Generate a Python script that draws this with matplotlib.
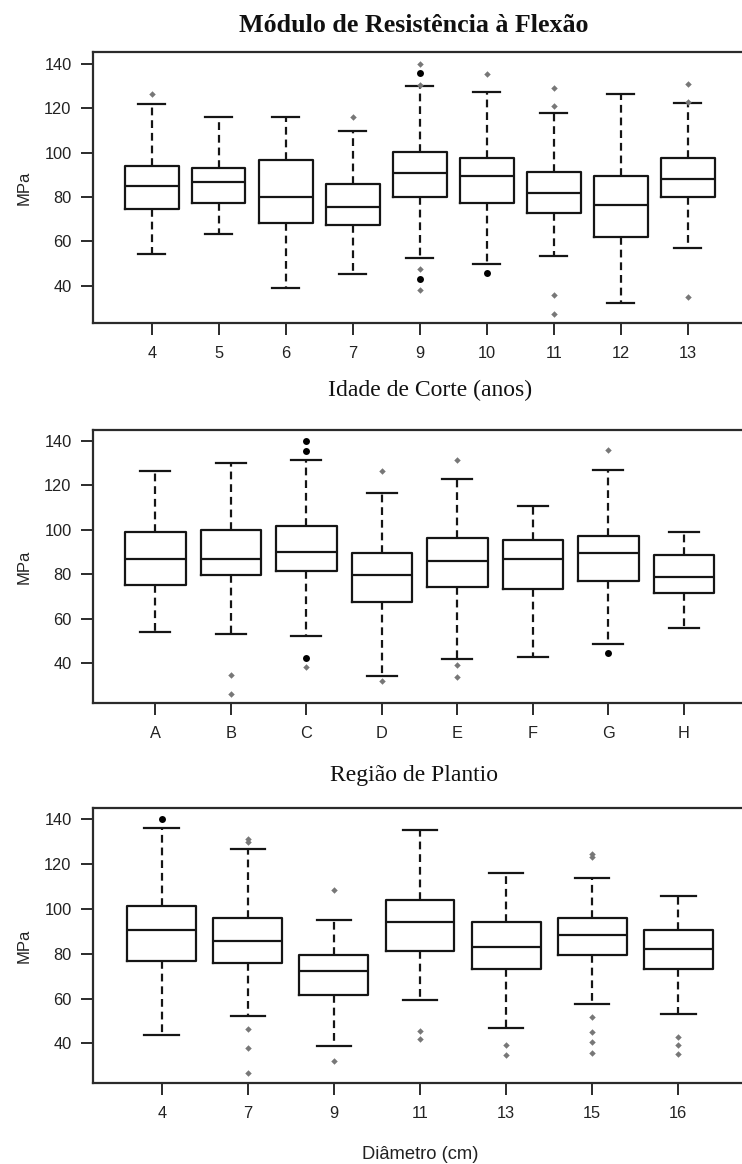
import matplotlib
matplotlib.use('Agg')
import matplotlib.pyplot as plt

# ---------------- data ----------------
# Panel 1: Idade de Corte (anos)
p1_groups = ['4', '5', '6', '7', '9', '10', '11', '12', '13']
p1_whislo = [54.1, 63.2, 39.2, 45.4, 52.6, 49.8, 53.4, 32.2, 57.0]
p1_q1 = [74.4, 77.4, 68.4, 67.4, 79.8, 77.4, 72.9, 62.1, 79.8]
p1_med = [85.1, 86.9, 79.8, 75.3, 90.7, 89.5, 82.0, 76.4, 88.0]
p1_q3 = [94.1, 93.2, 96.5, 86.0, 100.2, 97.4, 91.4, 89.6, 97.4]
p1_whishi = [122.1, 116.1, 116.1, 109.8, 130.2, 127.5, 117.7, 126.6, 122.3]
p1_out_gray = [[126.5], [], [], [115.9], [140.0, 130.5, 47.4, 38.3], [135.5],
               [129.3, 121.2, 35.8, 27.1], [], [131.1, 123.0, 35.0]]
p1_out_dark = [[], [], [], [], [136.1, 42.9], [45.9], [], [], []]

# Panel 2: Região de Plantio
p2_groups = ['A', 'B', 'C', 'D', 'E', 'F', 'G', 'H']
p2_whislo = [54.1, 53.2, 52.1, 34.0, 41.8, 42.7, 48.7, 55.7]
p2_q1 = [75.2, 79.5, 81.2, 67.4, 74.3, 73.4, 76.8, 71.7]
p2_med = [86.7, 86.7, 90.1, 79.8, 85.8, 86.7, 89.3, 78.6]
p2_q3 = [98.8, 99.7, 101.5, 89.3, 96.3, 95.2, 97.2, 88.4]
p2_whishi = [126.2, 129.8, 131.3, 116.3, 122.6, 110.4, 127.0, 98.8]
p2_out_gray = [[], [34.6, 25.9], [38.1], [126.2, 32.1], [131.5, 39.1, 33.9], [], [135.8], []]
p2_out_dark = [[], [], [139.9, 135.4, 42.2], [], [], [], [44.6], []]

# Panel 3: Diâmetro (cm)
p3_groups = ['4', '7', '9', '11', '13', '15', '16']
p3_whislo = [43.6, 52.2, 39.1, 59.3, 47.0, 57.4, 53.1]
p3_q1 = [76.7, 75.9, 61.7, 81.1, 73.2, 79.3, 73.0]
p3_med = [90.7, 85.5, 72.3, 94.2, 82.9, 88.4, 82.0]
p3_q3 = [101.2, 96.0, 79.3, 103.7, 94.0, 95.8, 90.4]
p3_whishi = [136.1, 126.5, 95.1, 135.2, 115.9, 113.5, 105.6]
p3_out_gray = [[], [131.2, 129.6, 46.3, 38.2, 26.9], [108.2, 32.1], [45.5, 42.2],
               [39.3, 34.8], [124.4, 122.9, 51.6, 45.2, 40.7, 35.8], [43.0, 39.2, 35.1]]
p3_out_dark = [[140.0], [], [], [], [], [], []]

y_ticks = [40, 60, 80, 100, 120, 140]
title = 'Módulo de Resistência à Flexão'
xlabels = ['Idade de Corte (anos)', 'Região de Plantio', 'Diâmetro (cm)']
ylabel = 'MPa'

# ---------------- figure ----------------
W, H = 742, 1164
fig = plt.figure(figsize=(W / 100, H / 100), dpi=100)
fig.patch.set_facecolor('white')

INK = '#151515'
TICKC = '#222222'


def add_axes_px(left, top, right, bottom):
    return fig.add_axes([left / W, 1 - bottom / H, (right - left) / W, (bottom - top) / H])


panels = [
    dict(groups=p1_groups, lo=p1_whislo, q1=p1_q1, med=p1_med, q3=p1_q3, hi=p1_whishi,
         gray=p1_out_gray, dark=p1_out_dark, box=(93, 52, 747, 323), ylim=(23.2, 145.4),
         first_x=151.7, spacing=67.0),
    dict(groups=p2_groups, lo=p2_whislo, q1=p2_q1, med=p2_med, q3=p2_q3, hi=p2_whishi,
         gray=p2_out_gray, dark=p2_out_dark, box=(93, 430, 747, 703), ylim=(22.0, 144.8),
         first_x=155.3, spacing=75.5),
    dict(groups=p3_groups, lo=p3_whislo, q1=p3_q1, med=p3_med, q3=p3_q3, hi=p3_whishi,
         gray=p3_out_gray, dark=p3_out_dark, box=(93, 808, 747, 1083), ylim=(22.4, 144.9),
         first_x=161.7, spacing=86.1),
]

for p in panels:
    ax = add_axes_px(*p['box'])
    n = len(p['groups'])
    pos = list(range(1, n + 1))
    stats = [dict(med=p['med'][i], q1=p['q1'][i], q3=p['q3'][i],
                  whislo=p['lo'][i], whishi=p['hi'][i], fliers=[]) for i in range(n)]
    ax.bxp(stats, positions=pos, widths=0.8, capwidths=0.4, showfliers=False,
           boxprops=dict(color=INK, linewidth=1.6),
           whiskerprops=dict(color=INK, linewidth=1.6, linestyle=(0, (3.5, 2.2))),
           capprops=dict(color=INK, linewidth=1.6),
           medianprops=dict(color=INK, linewidth=1.6))
    for i in range(n):
        g = p['gray'][i]
        if g:
            ax.plot([pos[i]] * len(g), g, ls='none', marker='D', ms=3.3,
                    color='#777777', mec='none', zorder=4)
        d = p['dark'][i]
        if d:
            ax.plot([pos[i]] * len(d), d, ls='none', marker='o', ms=5.0,
                    color='#000000', mec='none', zorder=5)
    # x-limits so that the first box sits where it does in the reference
    l, t, r, b = p['box']
    lo = 1 - (p['first_x'] - l) / p['spacing']
    ax.set_xlim(lo, lo + (r - l) / p['spacing'])
    ax.set_ylim(*p['ylim'])
    ax.set_xticks(pos)
    ax.set_xticklabels(p['groups'])
    ax.set_yticks(y_ticks)
    ax.set_yticklabels([str(v) for v in y_ticks])
    for s in ['left', 'top', 'bottom']:
        ax.spines[s].set_linewidth(1.6)
        ax.spines[s].set_color('#2b2b2b')
    ax.spines['right'].set_visible(False)
    ax.tick_params(axis='both', direction='out', length=8.4, width=1.4, color='#2b2b2b',
                   labelsize=11.8, labelcolor=TICKC)
    ax.tick_params(axis='x', pad=8)
    ax.tick_params(axis='y', pad=7)
    for lab in ax.get_xticklabels() + ax.get_yticklabels():
        lab.set_fontfamily('Liberation Sans')

    fig.text(24 / W, 1 - ((t + b) / 2) / H, ylabel, rotation=90, ha='center', va='center',
             fontsize=12, family='Liberation Sans', color=TICKC)

# title and x labels
fig.text(413.5 / W, 1 - 32 / H, title, ha='center', va='baseline',
         fontsize=18.7, fontweight='bold', family='Liberation Serif', color='#111111')
fig.text(430.5 / W, 1 - 396 / H, xlabels[0], ha='center', va='baseline',
         fontsize=17, family='Liberation Serif', color='#111111')
fig.text(413.5 / W, 1 - 781 / H, xlabels[1], ha='center', va='baseline',
         fontsize=17, family='Liberation Serif', color='#111111')
fig.text(420 / W, 1 - 1159 / H, xlabels[2], ha='center', va='baseline',
         fontsize=13.2, family='Liberation Sans', color=TICKC)

fig.savefig('out.png', dpi=100, facecolor='white')
